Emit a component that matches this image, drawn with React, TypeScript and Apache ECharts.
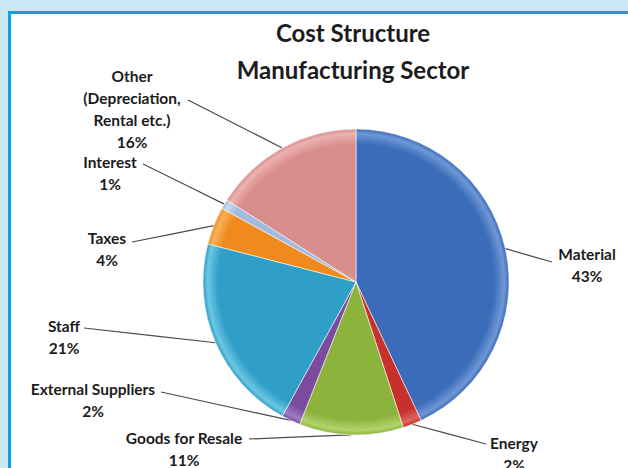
import React, { useEffect, useRef } from "react";
import * as echarts from "echarts";

// ---- data ----
const categories = [
  "Material",
  "Energy",
  "Goods for Resale",
  "External Suppliers",
  "Staff",
  "Taxes",
  "Interest",
  "Other\n(Depreciation,\nRental etc.)",
];
const values = [43, 2, 11, 2, 21, 4, 1, 16];
const titleLines = ["Cost Structure", "Manufacturing Sector"];

// ---- styles / layout ----
const baseColors = ["#3a6cb9", "#c7302c", "#8cb43c", "#7a4b9f", "#2f9fc7", "#f08a1e", "#a2badf", "#d88e8c"];
const rimColors = ["#6f97d6", "#e06460", "#b2d36c", "#a07dc2", "#6cc6e3", "#f8b15c", "#c8d8ef", "#ecb1b0"];
const CX = 356;
const CY = 282;
const R = 153;
const LH = 22;
// label anchor: centre x, centre y of first line, end point of leader line
const labelSpots = [
  { x: 587, y: 254, end: [552, 262] },
  { x: 514, y: 443, end: [486, 444] },
  { x: 184, y: 438, end: [249, 439] },
  { x: 93, y: 389, end: [161, 392] },
  { x: 64, y: 326, end: [84, 328] },
  { x: 107, y: 238, end: [132, 242] },
  { x: 110, y: 162, end: [143, 164] },
  { x: 132, y: 76, end: [188, 100] },
];

export default function App() {
  const ref = useRef<HTMLDivElement>(null);
  useEffect(() => {
    if (!ref.current) return;
    const chart = echarts.init(ref.current, null, { renderer: "svg" });
    const data = categories.map((name, i) => ({
      name,
      value: values[i],
      itemStyle: {
        color: new echarts.graphic.RadialGradient(CX, CY, R, [
          { offset: 0, color: baseColors[i] },
          { offset: 0.9, color: baseColors[i] },
          { offset: 0.97, color: rimColors[i] },
          { offset: 1, color: baseColors[i] },
        ], true),
      },
    }));
    chart.setOption({
      animation: false,
      title: {
        text: titleLines.join("\n"),
        left: 348,
        top: 9,
        textAlign: "center",
        textStyle: {
          fontFamily: "Lato",
          fontWeight: "bold",
          fontSize: 24,
          lineHeight: 37,
          color: "#1c1c1c",
        },
      },
      series: [
        {
          type: "pie",
          center: [CX, CY],
          radius: R,
          startAngle: 90,
          clockwise: true,
          avoidLabelOverlap: false,
          data,
          itemStyle: { borderColor: "rgba(255,255,255,0.55)", borderWidth: 1 },
          label: {
            show: true,
            position: "outside",
            formatter: (p: any) => `${p.name}\n${p.value}%`,
            fontFamily: "Lato",
            fontWeight: "bold",
            fontSize: 15.5,
            lineHeight: LH,
            color: "#1c1c1c",
            align: "center",
          },
          labelLine: {
            show: true,
            length: 10,
            length2: 10,
            lineStyle: { color: "#4a4a4a", width: 1.2 },
          },
          labelLayout: (params: any) => {
            const s = labelSpots[params.dataIndex];
            const pts = params.labelLinePoints;
            const start = pts && pts[0] ? pts[0] : [CX, CY];
            const mid = [(start[0] + s.end[0]) / 2, (start[1] + s.end[1]) / 2];
            return {
              x: s.x,
              y: s.y - LH / 2,
              align: "center",
              verticalAlign: "top",
              labelLinePoints: [start, mid, s.end],
            };
          },
          emphasis: { disabled: true },
        },
      ],
    });
    return () => chart.dispose();
  }, []);

  return (
    <div style={{ position: "fixed", left: 0, top: 0, width: 628, height: 468, background: "#c9e8f5", overflow: "hidden" }}>
      <div
        style={{
          position: "absolute",
          left: 8,
          top: 11,
          width: 640,
          height: 480,
          borderLeft: "3px solid #12a0dc",
          borderTop: "3px solid #12a0dc",
          background: "#ffffff",
        }}
      />
      <div ref={ref} style={{ position: "absolute", left: 0, top: 0, width: 628, height: 468 }} />
    </div>
  );
}
